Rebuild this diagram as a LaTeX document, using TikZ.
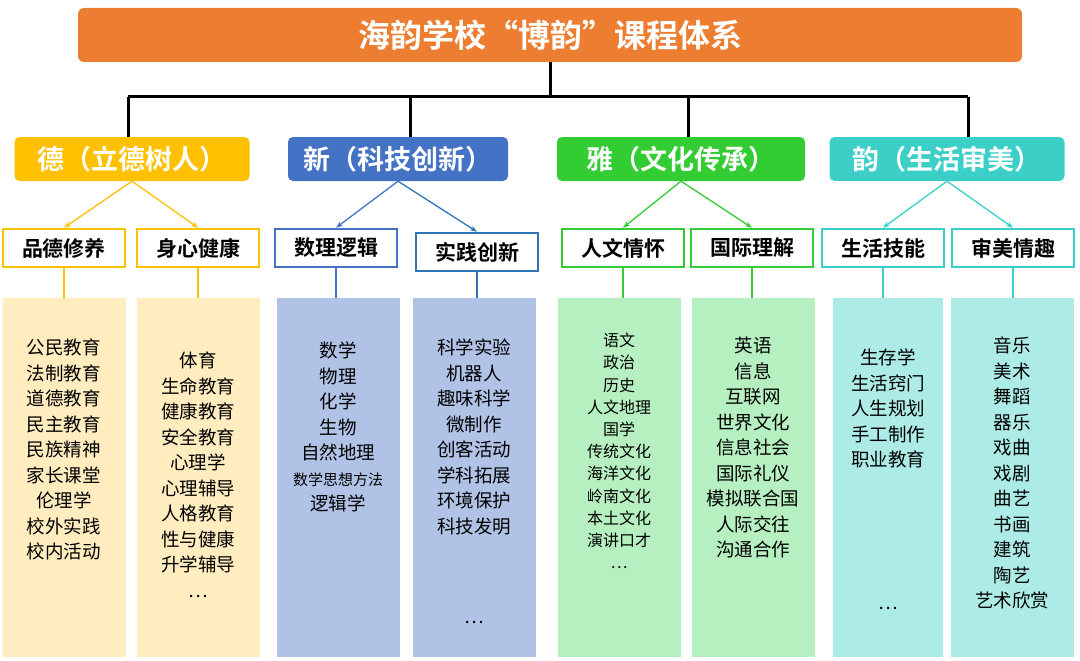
\documentclass[tikz,border=0pt]{standalone}
\usepackage{fontspec}
\setmainfont{Noto Sans CJK SC}
\newfontfamily\cjkbold{Noto Sans CJK SC Bold}
\usetikzlibrary{arrows.meta}
\definecolor{cOrange}{HTML}{ED7D31}
\definecolor{cGold}{HTML}{FFC000}
\definecolor{cBlue}{HTML}{4472C4}
\definecolor{cDkBlue}{HTML}{2E75B6}
\definecolor{cGreen}{HTML}{33CC33}
\definecolor{cTeal}{HTML}{3CCFC8}
\definecolor{fGold}{HTML}{FFEDC0}
\definecolor{fBlue}{HTML}{B0C3E6}
\definecolor{fGreen}{HTML}{B6F0C0}
\definecolor{fTeal}{HTML}{ACEBE6}
\tikzset{
  catbox/.style={rounded corners=5pt,minimum height=44pt,text=white,font=\cjkbold\fontsize{27}{30}\selectfont,inner sep=0pt},
  subbox/.style={draw=#1,line width=2.5pt,fill=white,minimum height=38pt,minimum width=122pt,font=\cjkbold\fontsize{21}{24}\selectfont,inner sep=0pt},
  listbox/.style={fill=#1,anchor=north,minimum width=123pt,minimum height=359pt,inner sep=0pt},
  items/.style={anchor=north,align=center,font=\fontsize{18.5}{25.5}\selectfont,inner sep=0pt},
  tree/.style={line width=3pt},
  fork/.style={draw=#1,line width=1.3pt,-{Stealth[length=7pt]}},
  drop/.style={draw=#1,line width=2pt}
}
\begin{document}
\begin{tikzpicture}[x=1pt,y=-1pt]
\useasboundingbox (0,0) rectangle (1080,661);
% title
\node[fill=cOrange,rounded corners=6pt,minimum width=944pt,minimum height=54pt,text=white,font=\cjkbold\fontsize{32}{36}\selectfont] (title) at (550,35) {海韵学校“博韵”课程体系};
\coordinate (hub) at (550,97);
\coordinate (h1) at (128,97);
\coordinate (h4) at (968,97);
\draw[tree] (title.south) -- (hub);
\draw[tree] (h1) -- (h4);
% categories
\node[catbox,fill=cGold,minimum width=235pt] (de) at (132,159) {德（立德树人）};
\node[catbox,fill=cBlue,minimum width=220pt] (xin) at (398,159) {新（科技创新）};
\node[catbox,fill=cGreen,minimum width=248pt] (ya) at (681,159) {雅（文化传承）};
\node[catbox,fill=cTeal,minimum width=235pt] (yun) at (947,159) {韵（生活审美）};
\foreach \x/\n in {128/de,410/xin,688/ya,968/yun}
  \draw[tree] (\x,97) -- (\x,137);
% subcategories
\node[subbox=cGold] (pd) at (64,248) {品德修养};
\node[subbox=cGold] (sx) at (198,248) {身心健康};
\node[subbox=cBlue] (sl) at (336,248) {数理逻辑};
\node[subbox=cDkBlue] (sj) at (477,252) {实践创新};
\node[subbox=cGreen] (rw) at (623,248) {人文情怀};
\node[subbox=cGreen] (gj) at (752,248) {国际理解};
\node[subbox=cTeal] (sh) at (883,248) {生活技能};
\node[subbox=cTeal] (sm) at (1013,248) {审美情趣};
\draw[fork=cGold] (de.south) -- (pd.north);
\draw[fork=cGold] (de.south) -- (sx.north);
\draw[fork=cBlue] (xin.south) -- (sl.north);
\draw[fork=cDkBlue] (xin.south) -- (sj.north);
\draw[fork=cGreen] (ya.south) -- (rw.north);
\draw[fork=cGreen] (ya.south) -- (gj.north);
\draw[fork=cTeal] (yun.south) -- (sh.north);
\draw[fork=cTeal] (yun.south) -- (sm.north);
% lists
\node[listbox=fGold] (l1) at (64,298) {};
\node[listbox=fGold] (l2) at (198,298) {};
\node[listbox=fBlue] (l3) at (338,298) {};
\node[listbox=fBlue] (l4) at (474,298) {};
\node[listbox=fGreen] (l5) at (619,298) {};
\node[listbox=fGreen] (l6) at (753,298) {};
\node[listbox=fTeal,minimum width=110pt] (l7) at (888,298) {};
\node[listbox=fTeal] (l8) at (1012,298) {};
\foreach \s/\l/\c in {pd/l1/cGold,sx/l2/cGold,sl/l3/cBlue,sj/l4/cDkBlue,rw/l5/cGreen,gj/l6/cGreen,sh/l7/cTeal,sm/l8/cTeal}
  \draw[drop=\c] (\s.south) -- (\s.south |- \l.north);
\node[items] (t1) at (64,339) {公民教育\\法制教育\\道德教育\\民主教育\\民族精神\\家长课堂\\伦理学\\校外实践\\校内活动};
\node[items] (t2) at (198,352) {体育\\生命教育\\健康教育\\安全教育\\心理学\\心理辅导\\人格教育\\性与健康\\升学辅导\\…};
\node[items] (t3) at (338,342) {数学\\物理\\化学\\生物\\自然地理\\{\fontsize{15}{20}\selectfont 数学思想方法}\\逻辑学};
\node[items] (t4) at (474,339) {科学实验\\机器人\\趣味科学\\微制作\\创客活动\\学科拓展\\环境保护\\科技发明};
\node[items] (t4b) at (474,621) {…};
\node[items,font=\fontsize{16}{22.2}\selectfont] (t5) at (619,333) {语文\\政治\\历史\\人文地理\\国学\\传统文化\\海洋文化\\岭南文化\\本土文化\\演讲口才\\…};
\node[items] (t6) at (753,337) {英语\\信息\\互联网\\世界文化\\信息社会\\国际礼仪\\模拟联合国\\人际交往\\沟通合作};
\node[items] (t7) at (888,349) {生存学\\生活窍门\\人生规划\\手工制作\\职业教育};
\node[items] (t7b) at (888,607) {…};
\node[items] (t8) at (1012,337) {音乐\\美术\\舞蹈\\器乐\\戏曲\\戏剧\\曲艺\\书画\\建筑\\陶艺\\艺术欣赏};
\end{tikzpicture}
\end{document}
